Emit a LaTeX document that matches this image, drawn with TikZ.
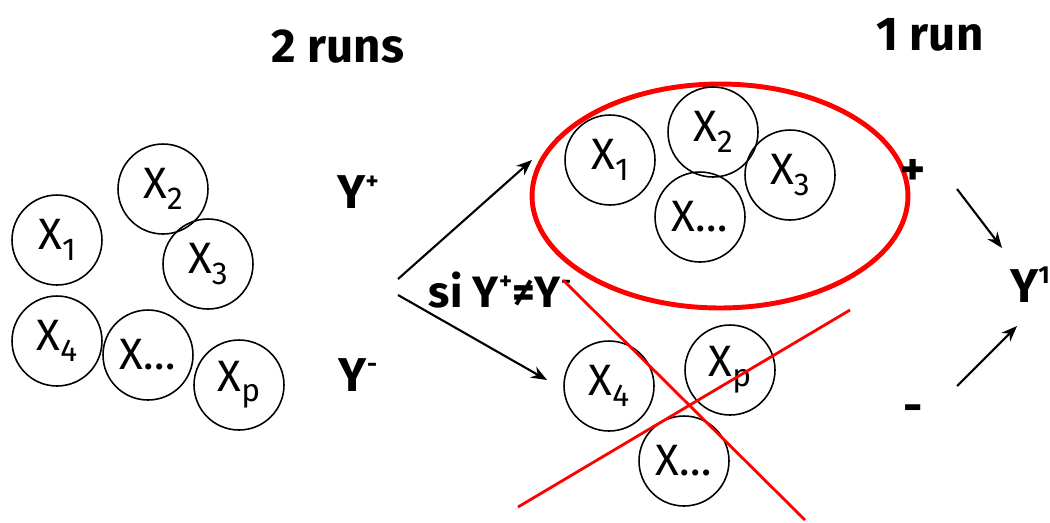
\documentclass[tikz,border=0pt]{standalone}
\usepackage{fontspec}
\setmainfont{Fira Sans}
\usetikzlibrary{shapes.geometric,arrows.meta}

\newcommand{\xsub}[1]{X\raisebox{-0.45ex}{\fontsize{18}{18}\selectfont #1}}
\newcommand{\ysup}[1]{Y\raisebox{0.75ex}{\fontsize{14}{14}\selectfont #1}}

\begin{document}
\begin{tikzpicture}[>={Stealth[length=9pt,width=7pt]},x=0.02cm,y=-0.02cm,
    font=\bfseries\fontsize{27}{27}\selectfont,
    var/.style={circle,draw,line width=0.9pt,minimum size=1.8cm,inner sep=0pt,
        font=\mdseries\fontsize{25}{25}\selectfont},
    link/.style={->,line width=1.2pt}]
    \useasboundingbox (0,0) rectangle (1050,522);

    % titles
    \node (tl) at (338,47) {2 runs};
    \node (tr) at (930,35) {1 run};

    % all variables
    \node[var] (a1) at (57,240) {\xsub{1}};
    \node[var] (a2) at (163,189) {\xsub{2}};
    \node[var] (a3) at (208,264) {\xsub{3}};
    \node[var] (a4) at (57,341) {\xsub{4}};
    \node[var] (ad) at (148,355) {X…};
    \node[var] (ap) at (239,385) {\xsub{p}};

    \node (yp) at (358,192) {\ysup{+}};
    \node (ym) at (358,375) {\ysup{-}};
    \node[font=\bfseries\fontsize{25}{25}\selectfont] (cond) at (500,290)
        {si \ysup{+}≠\ysup{-}};

    \coordinate (s1) at (398,279);
    \coordinate (s2) at (398,295);
    \coordinate (e1) at (532,160);
    \coordinate (e2) at (547,380);
    \draw[link] (s1) -- (e1);
    \draw[link] (s2) -- (e2);

    % kept group
    \node[ellipse,draw=red,line width=2.8pt,minimum width=7.52cm,minimum height=4.48cm]
        (grp) at (720,196) {};
    \node[var] (b1) at (610,160) {\xsub{1}};
    \node[var] (b2) at (713,132) {\xsub{2}};
    \node[var] (b3) at (790,175) {\xsub{3}};
    \node[var] (bd) at (700,217) {X…};

    % dropped group
    \node[var] (c4) at (609,386) {\xsub{4}};
    \node[var] (cp) at (730,370) {\xsub{p}};
    \node[var] (cd) at (684,461) {X…};
    \draw[red,line width=1.6pt] (563,280) -- (805,520);
    \draw[red,line width=1.6pt] (518,507) -- (850,310);

    % result
    \node (plus) at (913,172) {+};
    \node (minus) at (913,414) {-};
    \node (y1) at (1030,285) {\ysup{1}};
    \coordinate (r1) at (957,189);
    \coordinate (r2) at (1002,248);
    \coordinate (r3) at (957,386);
    \coordinate (r4) at (1017,326);
    \draw[link] (r1) -- (r2);
    \draw[link] (r3) -- (r4);
\end{tikzpicture}
\end{document}
